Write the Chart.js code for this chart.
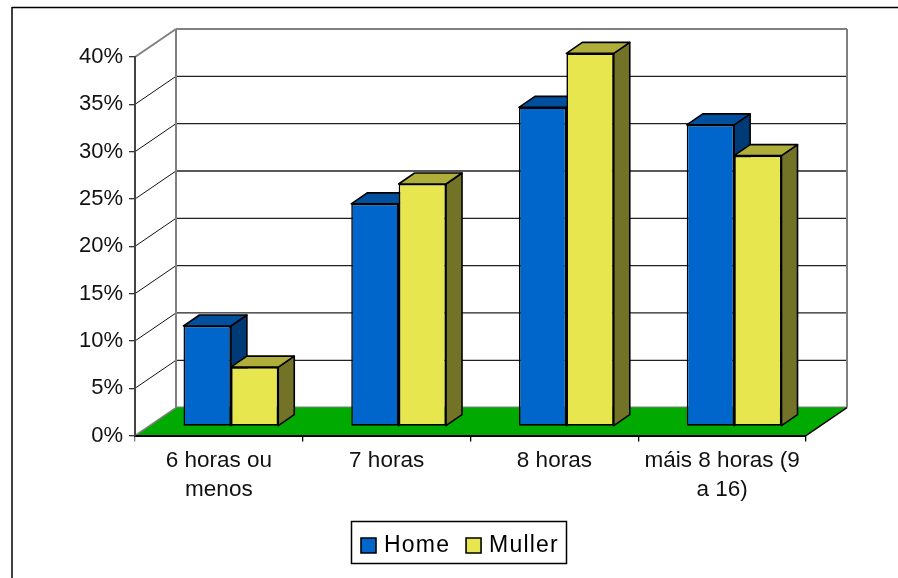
<!DOCTYPE html>
<html>
<head>
<meta charset="utf-8">
<style>html,body{margin:0;padding:0;background:#fff}canvas{display:block}</style>
<script src="https://cdn.jsdelivr.net/npm/chart.js@4"></script>
</head>
<body>
<canvas id="c" width="898" height="578"></canvas>
<script>
const categories = [["6 horas ou","menos"],"7 horas","8 horas",["máis 8 horas (9","a 16)"]];
const home = [10.6, 23.5, 33.7, 31.85];
const muller = [6.25, 25.6, 39.4, 28.6];
const yMax = 40, yStep = 5;

const FONT = "'Liberation Sans', Arial, sans-serif";
const wall = {dx: 41, dy: 28};
const barShift = {x: 12, y: -9.3};
const barDepth = {x: 16, y: 11};
const faces = [
  {front: '#0066CC', top: '#00509F', side: '#003B78'},
  {front: '#E8E64E', top: '#B0AE3A', side: '#737328'}
];

function poly(ctx, pts, fill, stroke, lw) {
  ctx.beginPath();
  pts.forEach((p, i) => i ? ctx.lineTo(p[0], p[1]) : ctx.moveTo(p[0], p[1]));
  ctx.closePath();
  if (fill) { ctx.fillStyle = fill; ctx.fill(); }
  if (stroke) { ctx.strokeStyle = stroke; ctx.lineWidth = lw; ctx.lineJoin = 'round'; ctx.stroke(); }
}
function seg(ctx, x1, y1, x2, y2, color, lw) {
  ctx.beginPath(); ctx.moveTo(x1, y1); ctx.lineTo(x2, y2);
  ctx.strokeStyle = color; ctx.lineWidth = lw; ctx.stroke();
}

const scene = {
  id: 'scene',
  afterInit(chart) {
    const legend = chart.legend, orig = legend.draw.bind(legend);
    legend.draw = function () {
      const ctx = chart.ctx;
      ctx.save();
      ctx.strokeStyle = '#000'; ctx.lineWidth = 1.5; ctx.fillStyle = '#fff';
      ctx.beginPath(); ctx.rect(351.5, 521.5, 215, 42); ctx.fill(); ctx.stroke();
      const box = legend.legendHitBoxes[0];
      ctx.translate(361 - box.left, 534 - box.top);
      ctx.letterSpacing = '1.2px';
      const ft = ctx.fillText;
      ctx.fillText = function (t, x, y) { ft.call(ctx, t, x - 3.5, y); };
      orig();
      delete ctx.fillText;
      ctx.restore();
    };
  },
  beforeDraw(chart) {
    const ctx = chart.ctx, a = chart.chartArea, y = chart.scales.y;
    ctx.save();
    seg(ctx, 12, 7.5, 898, 7.5, '#000', 1.5);
    seg(ctx, 12, 7, 12, 578, '#000', 1.5);
    const b = a.bottom, t = a.top, l = a.left, r = a.right, dx = wall.dx, dy = wall.dy;
    y.ticks.forEach(tk => {
      const py = y.getPixelForValue(tk.value);
      if (tk.value > 0 && tk.value < yMax) {
        seg(ctx, l, py, l + dx, py - dy, '#111', 1);
        seg(ctx, l + dx, py - dy, r + dx, py - dy, '#222', 1.3);
      }
    });
    seg(ctx, l, t, l + dx, t - dy, '#808080', 2);
    seg(ctx, l + dx, t - dy, r + dx, t - dy, '#808080', 2);
    seg(ctx, l + dx, t - dy, l + dx, b - dy, '#808080', 2);
    seg(ctx, r + dx, t - dy, r + dx, b - dy, '#808080', 2);
    seg(ctx, l + dx, b - dy, r + dx, b - dy, '#808080', 2);
    poly(ctx, [[l, b], [l + dx, b - dy], [r + dx, b - dy], [r, b]], '#00AA00');
    seg(ctx, l, b, l + dx, b - dy, '#808080', 1.5);
    seg(ctx, r, b, r + dx, b - dy, '#000', 1.3);
    ctx.restore();
  },
  // Home first, Muller over it, each with its side and top faces behind the front.
  beforeDatasetsDraw(chart) {
    const ctx = chart.ctx, dx = barDepth.x, dy = barDepth.y;
    chart.data.datasets.forEach((ds, i) => {
      const meta = chart.getDatasetMeta(i), f = faces[i];
      ctx.save();
      ctx.translate(barShift.x, barShift.y);
      meta.data.forEach(el => {
        const L = el.x - el.width / 2, R = el.x + el.width / 2, T = el.y, B = el.base;
        poly(ctx, [[R, T], [R + dx, T - dy], [R + dx, B - dy], [R, B]], f.side, '#000', 1.6);
        poly(ctx, [[L, T], [L + dx, T - dy], [R + dx, T - dy], [R, T]], f.top, '#000', 1.6);
      });
      meta.controller.draw();
      ctx.restore();
    });
    return false;
  }
};

new Chart(document.getElementById('c'), {
  type: 'bar',
  data: {
    labels: categories,
    datasets: [
      {label: 'Home', data: home, backgroundColor: faces[0].front, borderColor: '#000', borderWidth: 1.6, borderSkipped: false},
      {label: 'Muller', data: muller, backgroundColor: faces[1].front, borderColor: '#000', borderWidth: 1.6, borderSkipped: false}
    ]
  },
  options: {
    responsive: false,
    animation: false,
    devicePixelRatio: 1,
    barPercentage: 1,
    categoryPercentage: 0.565,
    layout: {padding: {left: 0, right: 92, top: 57, bottom: 0}},
    plugins: {
      tooltip: {enabled: false},
      title: {display: false},
      legend: {
        position: 'bottom',
        labels: {
          boxWidth: 15, boxHeight: 15, padding: 12.4,
          color: '#000',
          font: {family: FONT, size: 23}
        }
      }
    },
    scales: {
      x: {
        afterFit(s) { s.height = 97; },
        grid: {
          drawOnChartArea: false, drawTicks: true, tickLength: 6,
          color: c => (c.index === 0 || c.index === categories.length) ? '#808080' : '#000',
          lineWidth: 1.3
        },
        border: {color: '#000', width: 2},
        ticks: {color: '#111', font: {family: FONT, size: 22.5, lineHeight: 1.29}, padding: 5, maxRotation: 0, autoSkip: false}
      },
      y: {
        min: 0, max: yMax,
        afterFit(s) { s.width = 135; },
        grid: {drawOnChartArea: false, drawTicks: true, tickLength: 6, color: '#333', lineWidth: 1.3},
        border: {color: '#444', width: 2},
        ticks: {stepSize: yStep, color: '#111', font: {family: FONT, size: 22}, padding: 6, callback: v => v + '%'}
      }
    }
  },
  plugins: [scene]
});
</script>
</body>
</html>
